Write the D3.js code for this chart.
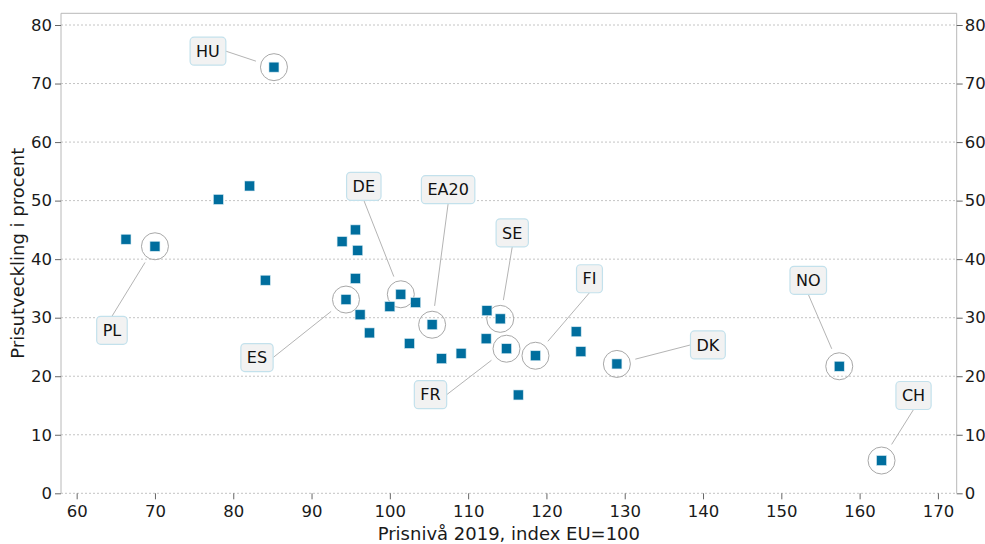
<!DOCTYPE html>
<html>
<head>
<meta charset="utf-8">
<script src="https://cdn.jsdelivr.net/npm/d3@7/dist/d3.min.js"></script>
<style>
	body { margin: 0; background: #ffffff; }
	text { font-family: "DejaVu Sans", Verdana, sans-serif; }
</style>
</head>
<body>
<div id="chart"></div>
<script>

// land, prisnivå 2019 (index EU=100) och prisutveckling i procent
var land= ["HU", "", "", "", "PL", "", "", "", "", "", "ES", "", "", "DE", "", "",
	"EA20", "", "", "", "", "SE", "", "FR", "", "FI", "", "", "DK", "NO", "CH"];

var prisniva= [85.2, 78.1, 82.1, 66.3, 70.0, 84.1, 93.9, 95.6, 95.9, 95.6, 94.4, 96.2, 97.4, 101.4, 100.0, 103.3,
	105.4, 102.5, 106.6, 109.1, 112.4, 114.1, 112.3, 114.9, 116.4, 118.6, 123.8, 124.4, 129.0, 157.4, 162.8];

var prisutveckling= [72.8, 50.2, 52.5, 43.4, 42.2, 36.4, 43.0, 45.0, 41.5, 36.7, 33.1, 30.5, 27.4, 34.0, 31.9, 32.6,
	28.8, 25.6, 23.0, 23.9, 31.2, 29.8, 26.4, 24.7, 16.8, 23.5, 27.6, 24.2, 22.1, 21.7, 5.6];

var xTicks= [60, 70, 80, 90, 100, 110, 120, 130, 140, 150, 160, 170];
var yTicks= [0, 10, 20, 30, 40, 50, 60, 70, 80];

// etiketternas förskjutning från punkten, i pixlar
var etikettlagen= [
	{land: "HU", dx: -66, dy: -16},
	{land: "PL", dx: -43, dy: 84},
	{land: "ES", dx: -89, dy: 58},
	{land: "DE", dx: -37, dy: -108},
	{land: "EA20", dx: 16, dy: -135},
	{land: "SE", dx: 12, dy: -86},
	{land: "FR", dx: -76, dy: 46},
	{land: "FI", dx: 54, dy: -77},
	{land: "DK", dx: 91, dy: -19},
	{land: "NO", dx: -31, dy: -86},
	{land: "CH", dx: 32, dy: -65}
];

var W= 985, H= 544;
var margin= {top: 13.3, right: 28.3, bottom: 50.7, left: 61};
var width= W- margin.left- margin.right;
var height= H- margin.top- margin.bottom;

var svg= d3.select("#chart")
	.append("svg")
	.attr("width", W)
	.attr("height", H);

var canvas= svg.append("g")
	.attr("transform", "translate(" + margin.left + "," + margin.top + ")");

var x= d3.scaleLinear().domain([58, 172.4]).range([0, width]);
var y= d3.scaleLinear().domain([0, 82]).range([height, 0]);

// rutnät
canvas.selectAll(".grid")
	.data(yTicks)
	.enter().append("line")
	.attr("x1", 0)
	.attr("x2", width)
	.attr("y1", function(d) { return y(d); })
	.attr("y2", function(d) { return y(d); })
	.attr("stroke", "#c4c4c4")
	.attr("stroke-width", 1)
	.attr("stroke-dasharray", "2,2");

// ram: vänster, topp, höger
canvas.append("path")
	.attr("d", "M0," + height + "V0H" + width + "V" + height)
	.attr("fill", "none")
	.attr("stroke", "#b8b8b8")
	.attr("stroke-width", 1);

function styleAxis(g) {
	g.select(".domain").remove();
	g.selectAll(".tick line").attr("stroke", "#666666");
	g.selectAll(".tick text")
		.attr("fill", "#1a1a1a")
		.style("font-size", "16.5px")
		.style("font-family", "'DejaVu Sans', Verdana, sans-serif");
}

canvas.append("g")
	.attr("transform", "translate(0," + height + ")")
	.call(d3.axisBottom(x).tickValues(xTicks).tickSize(6).tickPadding(6))
	.call(styleAxis);

canvas.append("g")
	.call(d3.axisLeft(y).tickValues(yTicks).tickSize(6).tickPadding(3))
	.call(styleAxis);

canvas.append("g")
	.attr("transform", "translate(" + width + ",0)")
	.call(d3.axisRight(y).tickValues(yTicks).tickSize(6).tickPadding(2))
	.call(styleAxis);

// axeltitlar
svg.append("text")
	.attr("x", margin.left+ width/ 2)
	.attr("y", H- 4)
	.attr("text-anchor", "middle")
	.attr("fill", "#1a1a1a")
	.style("font-size", "18px")
	.text("Prisnivå 2019, index EU=100");

svg.append("text")
	.attr("transform", "translate(24," + (margin.top+ height/ 2) + ") rotate(-90)")
	.attr("text-anchor", "middle")
	.attr("fill", "#1a1a1a")
	.style("font-size", "18px")
	.text("Prisutveckling i procent");

var punkter= land.map(function(d, i) {
	return {land: d, x: prisniva[i], y: prisutveckling[i]};
});

// ringar runt markerade länder
var markerade= etikettlagen.map(function(e) {
	var p= punkter.find(function(d) { return d.land== e.land; });
	return {land: e.land, px: x(p.x), py: y(p.y), dx: e.dx, dy: e.dy};
});

// kopplingslinjer
var lager= canvas.append("g");

canvas.selectAll(".ring")
	.data(markerade)
	.enter().append("circle")
	.attr("cx", function(d) { return d.px; })
	.attr("cy", function(d) { return d.py; })
	.attr("r", 13.5)
	.attr("fill", "none")
	.attr("stroke", "#a8a8a8")
	.attr("stroke-width", 1);

canvas.selectAll(".punkt")
	.data(punkter)
	.enter().append("rect")
	.attr("x", function(d) { return x(d.x)- 5; })
	.attr("y", function(d) { return y(d.y)- 5; })
	.attr("width", 10)
	.attr("height", 10)
	.attr("fill", "#006e9e")
	.attr("stroke", "#d6eaf2")
	.attr("stroke-width", 0.6);

var boxH= 28;

markerade.forEach(function(d) {
	var cx= d.px+ d.dx, cy= d.py+ d.dy;

	var g= canvas.append("g");
	var t= g.append("text")
		.attr("x", cx)
		.attr("y", cy)
		.attr("dy", "0.36em")
		.attr("text-anchor", "middle")
		.attr("fill", "#111111")
		.style("font-size", "16px")
		.text(d.land);

	var bw= t.node().getComputedTextLength()+ 12;
	g.insert("rect", "text")
		.attr("x", cx- bw/ 2)
		.attr("y", cy- boxH/ 2)
		.attr("width", bw)
		.attr("height", boxH)
		.attr("rx", 4)
		.attr("fill", "#f2f2f2")
		.attr("stroke", "#c3e1ec")
		.attr("stroke-width", 1.2);

	// ankare: mitt på närmaste kant
	var ax, ay;
	if (Math.abs(d.dx)/ (bw/ 2) > Math.abs(d.dy)/ (boxH/ 2)) {
		ax= cx+ (d.dx> 0 ? -bw/ 2 : bw/ 2);
		ay= cy;
	}
	else {
		ax= cx;
		ay= cy+ (d.dy> 0 ? -boxH/ 2 : boxH/ 2);
	}

	var vx= ax- d.px, vy= ay- d.py;
	var len= Math.sqrt(vx* vx+ vy* vy);
	var gap= 19;

	lager.append("line")
		.attr("x1", ax)
		.attr("y1", ay)
		.attr("x2", d.px+ vx/ len* gap)
		.attr("y2", d.py+ vy/ len* gap)
		.attr("stroke", "#b4b4b4")
		.attr("stroke-width", 1);
});

</script>
</body>
</html>
